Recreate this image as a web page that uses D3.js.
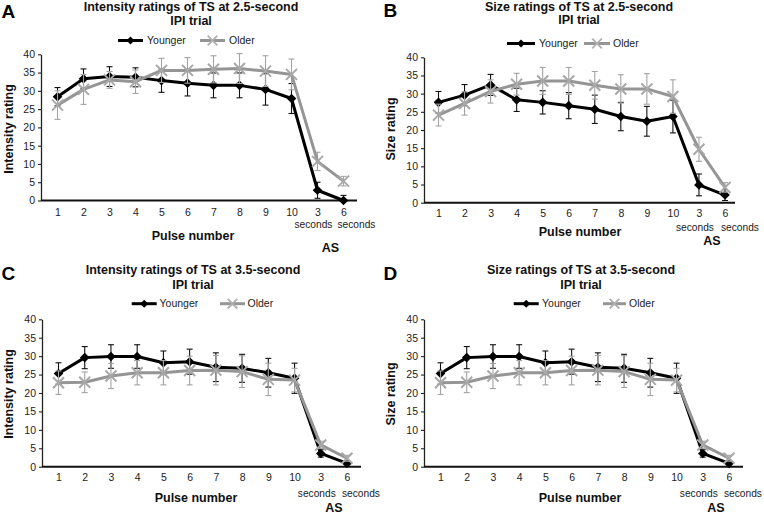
<!DOCTYPE html>
<html>
<head>
<meta charset="utf-8">
<script src="https://cdn.jsdelivr.net/npm/d3@7"></script>
<style>
  html, body { margin: 0; padding: 0; background: #fff; }
  svg { display: block; font-family: "Liberation Sans", Arial, sans-serif; }
</style>
</head>
<body>
<svg id="chart" width="764" height="514"></svg>
<script>
// ---------- data ----------
const xLabels = ["1","2","3","4","5","6","7","8","9","10","3","6"];
const xSubLabels = ["","","","","","","","","","","seconds","seconds"];
const yTicks = [0,5,10,15,20,25,30,35,40];
const seriesNames = ["Younger","Older"];

const A_younger    = [28.4,33.3,33.9,33.7,32.8,32.1,31.5,31.5,30.4,27.9,2.8,0.0];
const A_youngerErr = [2.5,2.7,2.7,2.6,3.2,3.5,3.4,3.4,4.3,4.1,2.2,1.4];
const A_older      = [26.1,30.4,33.0,32.5,35.6,35.6,35.9,36.1,35.4,34.5,10.7,5.3];
const A_olderErr   = [3.9,4.1,2.3,3.2,3.3,3.5,3.7,4.1,4.2,4.2,2.5,1.3];

const B_younger    = [27.6,29.6,32.4,28.3,27.6,26.7,25.7,23.7,22.4,23.7,4.9,2.1];
const B_youngerErr = [3.0,2.9,2.9,3.2,3.2,3.6,3.9,3.9,4.1,4.5,3.0,1.5];
const B_older      = [24.1,27.3,30.6,32.6,33.5,33.5,32.3,31.3,31.3,29.2,14.7,4.2];
const B_olderErr   = [3.0,3.2,3.2,3.0,3.7,3.7,3.8,3.9,4.2,4.6,3.3,1.3];

const C_younger    = [25.3,29.6,29.9,29.9,28.2,28.5,27.0,26.7,25.5,24.0,3.6,0.9];
const C_youngerErr = [2.9,3.0,3.2,3.2,3.2,3.4,3.9,3.8,3.9,4.1,1.0,0.8];
const C_older      = [22.8,22.9,24.6,25.5,25.5,26.1,26.2,25.8,23.7,23.5,5.9,2.3];
const C_olderErr   = [3.2,2.8,3.4,3.3,3.3,3.9,4.0,4.3,4.4,3.2,1.0,0.8];

const D_younger    = [25.3,29.6,29.9,29.9,28.2,28.5,27.0,26.7,25.5,24.0,3.6,0.9];
const D_youngerErr = [2.9,3.0,3.2,3.2,3.2,3.4,3.9,3.8,3.9,4.1,1.0,0.8];
const D_older      = [22.8,22.9,24.6,25.5,25.5,26.1,26.2,25.8,23.7,23.5,5.9,2.3];
const D_olderErr   = [3.2,2.8,3.4,3.3,3.3,3.9,4.0,4.3,4.4,3.2,1.0,0.8];

const panelLetters = ["A","B","C","D"];
const panelTitles = [
  ["Intensity ratings of TS at 2.5-second","IPI trial"],
  ["Size ratings of TS at 2.5-second","IPI trial"],
  ["Intensity ratings of TS at 3.5-second","IPI trial"],
  ["Size ratings of TS at 3.5-second","IPI trial"]
];
const yTitles = ["Intensity rating","Size rating","Intensity rating","Size rating"];
const xTitle = "Pulse number";
const asLabel = "AS";

// ---------- layout (positions only) ----------
const layouts = [
  {ox:0,   oy:0,   x0:41, x1:357, p0:57.5, p1:343.5, yTop:54.3, yBot:200.5, titleX:191, titleY:[11,24.5], letterY:17.5,
   legY:40.5, legYo:[118,143], legYt:147, legOo:[200,225], legOt:229, yLabY:129,
   tickY:216, secY:228, secDx:[-4,13], pulseX:193, pulseY:239.5, asY:252},
  {ox:382, oy:0,   x0:42, x1:353, p0:56.5, p1:343, yTop:57.3, yBot:202.7, titleX:197, titleY:[10.5,24], letterY:17,
   legY:43.5, legYo:[125,153], legYt:157, legOo:[202,228], legOt:231, yLabY:129,
   tickY:217, secY:230.5, secDx:[-4,15], pulseX:198, pulseY:236, asY:244.5},
  {ox:0,   oy:257, x0:42, x1:361, p0:58.5, p1:347, yTop:62.3, yBot:209.7, titleX:193, titleY:[16.5,31.5], letterY:23,
   legY:46.7, legYo:[131.7,156.7], legYt:159.5, legOo:[220,245], legOt:247.5, yLabY:137,
   tickY:224, secY:240, secDx:[-4,14], pulseX:196, pulseY:244.5, asY:254.5},
  {ox:382, oy:257, x0:42, x1:361, p0:58.5, p1:347, yTop:62.3, yBot:209.7, titleX:199, titleY:[16.5,31.5], letterY:23,
   legY:46.7, legYo:[131.7,156.7], legYt:160, legOo:[221,244], legOt:247, yLabY:137,
   tickY:224, secY:240, secDx:[-4,14], pulseX:198, pulseY:244.5, asY:254.5}
];

const panelData = [
  {y:A_younger, ye:A_youngerErr, o:A_older, oe:A_olderErr},
  {y:B_younger, ye:B_youngerErr, o:B_older, oe:B_olderErr},
  {y:C_younger, ye:C_youngerErr, o:C_older, oe:C_olderErr},
  {y:D_younger, ye:D_youngerErr, o:D_older, oe:D_olderErr}
];

const BLACK = "#000";
const GREY = "#959595";
const GREY_ERR = "#a3a3a3";

const svg = d3.select("#chart");

function diamondPath(r) { return `M0,${-r}L${r},0L0,${r}L${-r},0Z`; }
function crossPath(r) { return `M${-r},${-r}L${r},${r}M${-r},${r}L${r},${-r}`; }

panelLetters.forEach((letter, pi) => {
  const L = layouts[pi];
  const D = panelData[pi];
  const g = svg.append("g").attr("transform", `translate(${L.ox},${L.oy})`);

  const idx = d3.range(xLabels.length);
  const x = d3.scalePoint().domain(idx).range([L.p0, L.p1]);
  const y = d3.scaleLinear().domain([0, 40]).range([L.yBot, L.yTop]);

  // panel letter
  g.append("text").attr("x", 1.5).attr("y", L.letterY)
    .attr("font-size", 19).attr("font-weight", "bold").attr("fill", "#000").text(letter);

  // title
  panelTitles[pi].forEach((t, k) => {
    g.append("text").attr("x", L.titleX).attr("y", L.titleY[k]).attr("text-anchor", "middle")
      .attr("font-size", 12.5).attr("font-weight", "bold").attr("fill", "#111").text(t);
  });

  // legend
  const lg = g.append("g");
  lg.append("line").attr("x1", L.legYo[0]).attr("x2", L.legYo[1]).attr("y1", L.legY).attr("y2", L.legY)
    .attr("stroke", BLACK).attr("stroke-width", 3);
  lg.append("path").attr("d", diamondPath(4))
    .attr("transform", `translate(${(L.legYo[0]+L.legYo[1])/2},${L.legY})`).attr("fill", BLACK);
  lg.append("text").attr("x", L.legYt).attr("y", L.legY + 3.7).attr("font-size", 10.5).attr("fill", "#222").text(seriesNames[0]);
  lg.append("line").attr("x1", L.legOo[0]).attr("x2", L.legOo[1]).attr("y1", L.legY).attr("y2", L.legY)
    .attr("stroke", GREY).attr("stroke-width", 3);
  lg.append("path").attr("d", crossPath(4.8))
    .attr("transform", `translate(${(L.legOo[0]+L.legOo[1])/2},${L.legY})`)
    .attr("stroke", "#b0b0b0").attr("stroke-width", 1.8).attr("fill", "none");
  lg.append("text").attr("x", L.legOt).attr("y", L.legY + 3.7).attr("font-size", 10.5).attr("fill", "#222").text(seriesNames[1]);

  // y axis
  const ya = g.append("g").attr("transform", `translate(${L.x0},0)`)
    .call(d3.axisLeft(y).tickValues(yTicks).tickSize(3).tickSizeOuter(0).tickPadding(3));
  ya.select(".domain").attr("stroke", "#222").attr("stroke-width", 1.3);
  ya.selectAll(".tick line").attr("stroke", "#222").attr("stroke-width", 1.1);
  ya.selectAll(".tick text").attr("font-size", 10.5).attr("fill", "#222")
    .attr("font-family", '"Liberation Sans", Arial, sans-serif');

  // y title
  g.append("text").attr("transform", `translate(13,${L.yLabY}) rotate(-90)`).attr("text-anchor", "middle")
    .attr("font-size", 12.5).attr("font-weight", "bold").attr("fill", "#111").text(yTitles[pi]);

  // x axis (labels via axis, baseline line drawn across the plot)
  const xa = g.append("g").attr("transform", `translate(0,${L.yBot})`)
    .call(d3.axisBottom(x).tickSize(0).tickFormat(i => xLabels[i]));
  xa.select(".domain").remove();
  xa.selectAll(".tick text").attr("font-size", 10.5).attr("fill", "#222")
    .attr("font-family", '"Liberation Sans", Arial, sans-serif')
    .attr("dy", null).attr("y", L.tickY - L.yBot);
  let secCount = 0;
  idx.forEach(i => {
    if (xSubLabels[i]) {
      g.append("text").attr("x", x(i) + L.secDx[secCount]).attr("y", L.secY).attr("text-anchor", "middle")
        .attr("font-size", 10.2).attr("fill", "#222").text(xSubLabels[i]);
      secCount++;
    }
  });
  g.append("line").attr("x1", L.x0).attr("x2", L.x1).attr("y1", L.yBot).attr("y2", L.yBot)
    .attr("stroke", "#111").attr("stroke-width", 2);

  // x titles
  g.append("text").attr("x", L.pulseX).attr("y", L.pulseY).attr("text-anchor", "middle")
    .attr("font-size", 12.5).attr("font-weight", "bold").attr("fill", "#111").text(xTitle);
  const asIdx = idx.filter(i => xSubLabels[i]);
  g.append("text").attr("x", d3.mean(asIdx, i => x(i))).attr("y", L.asY).attr("text-anchor", "middle")
    .attr("font-size", 12.5).attr("font-weight", "bold").attr("fill", "#111").text(asLabel);

  const line = d3.line().x((d, i) => x(i)).y(d => y(d));

  function drawSeries(vals, errs, color, errColor, marker) {
    const s = g.append("g");
    // error bars
    vals.forEach((v, i) => {
      const cx = x(i), lo = y(Math.max(0, v - errs[i])), hi = y(v + errs[i]);
      s.append("line").attr("x1", cx).attr("x2", cx).attr("y1", lo).attr("y2", hi)
        .attr("stroke", errColor).attr("stroke-width", 1.1);
      [lo, hi].forEach(yy => s.append("line").attr("x1", cx - 3).attr("x2", cx + 3).attr("y1", yy).attr("y2", yy)
        .attr("stroke", errColor).attr("stroke-width", 1.1));
    });
    s.append("path").datum(vals).attr("d", line).attr("fill", "none")
      .attr("stroke", color).attr("stroke-width", 3).attr("stroke-linejoin", "round");
    vals.forEach((v, i) => {
      if (marker === "diamond") {
        s.append("path").attr("d", diamondPath(4.8)).attr("transform", `translate(${x(i)},${y(v)})`).attr("fill", color);
      } else {
        s.append("path").attr("d", crossPath(5.5)).attr("transform", `translate(${x(i)},${y(v)})`)
          .attr("stroke", "#a8a8a8").attr("stroke-width", 2).attr("fill", "none");
      }
    });
  }
  drawSeries(D.y, D.ye, BLACK, "#111", "diamond");
  drawSeries(D.o, D.oe, GREY, GREY_ERR, "cross");
});
</script>
</body>
</html>
